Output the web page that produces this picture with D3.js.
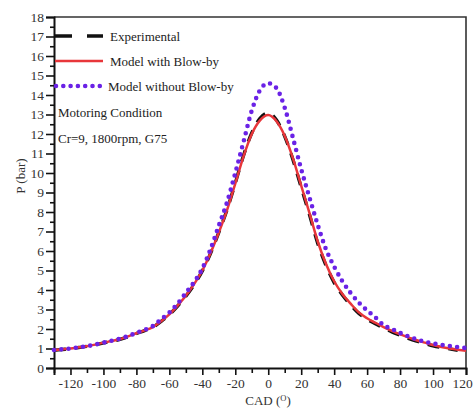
<!DOCTYPE html>
<html><head><meta charset="utf-8">
<script src="https://cdn.jsdelivr.net/npm/d3@7"></script>
<style>body{margin:0;background:#fff}svg{display:block}</style>
</head><body>
<script>
const cad = [-130,-125,-120,-115,-110,-105,-100,-95,-90,-85,-80,-75,-70,-65,-60,-55,-50,-45,-40,-35,-30,-25,-20,-15,-10,-5,0,5,10,15,20,25,30,35,40,45,50,55,60,65,70,75,80,85,90,95,100,105,110,115,120];
const withBlowby = [0.92,0.96,1.0,1.06,1.12,1.2,1.3,1.38,1.48,1.62,1.78,1.93,2.1,2.4,2.75,3.2,3.7,4.3,5.0,5.9,6.95,8.1,9.45,10.85,12.0,12.7,12.97,12.65,11.9,10.75,9.35,7.95,6.5,5.35,4.45,3.8,3.3,2.85,2.55,2.32,2.1,1.9,1.72,1.57,1.42,1.3,1.18,1.08,1.0,0.94,0.88];
const withoutBlowby = [0.92,0.96,1.0,1.06,1.12,1.2,1.3,1.4,1.5,1.64,1.8,1.96,2.15,2.5,2.85,3.3,3.85,4.4,5.1,6.1,7.3,8.5,10.0,11.6,13.2,14.25,14.6,14.35,13.35,11.8,10.2,8.75,7.35,6.1,5.2,4.45,3.85,3.35,2.95,2.6,2.2,2.0,1.8,1.62,1.47,1.35,1.26,1.19,1.13,1.07,1.02];
const expCad = [-130,-125,-120,-115,-110,-105,-100,-95,-90,-85,-80,-75,-70,-65,-60,-55,-50,-45,-40,-35,-30,-25,-20,-15,-10,-5,0,5,10,15,20,25,30,35,40,45,50,55,60,65,70,75,80,85,90,95,100,105,110,115];
const experimental = [0.91,0.95,0.99,1.05,1.11,1.19,1.29,1.37,1.47,1.61,1.77,1.92,2.09,2.39,2.74,3.18,3.68,4.27,4.98,5.88,6.95,8.12,9.48,10.9,12.05,12.8,13.08,12.72,11.88,10.68,9.27,7.87,6.4,5.27,4.38,3.74,3.24,2.8,2.5,2.27,2.05,1.85,1.68,1.52,1.38,1.26,1.14,1.05,0.98,0.91];
const xTicks = [-120,-100,-80,-60,-40,-20,0,20,40,60,80,100,120];
const yTicks = [0,1,2,3,4,5,6,7,8,9,10,11,12,13,14,15,16,17,18];
const legendLabels = ["Experimental","Model with Blow-by","Model without Blow-by"];
const notes = ["Motoring Condition","Cr=9, 1800rpm, G75"];

const W=473,H=410, L=54, R=466, T=17, B=368;
const svg=d3.select("body").append("svg").attr("width",W).attr("height",H);
const x=d3.scaleLinear().domain([-130,120]).range([L,R]);
const y=d3.scaleLinear().domain([0,18]).range([B,T]);
const font="'Liberation Serif','Times New Roman',serif";

// frame top/right
svg.append("path").attr("d",`M${L},${T}H${R}V${B}`).attr("fill","none").attr("stroke","#333").attr("stroke-width",1.6);

// minor ticks
const yMinor=d3.range(0.5,18,1);
const xMinor=d3.range(-130,121,10).filter(v=>v%20!==0);
const gyMin=svg.append("g").attr("transform",`translate(${L},0)`).call(d3.axisLeft(y).tickValues(yMinor).tickSize(4).tickFormat(""));
const gxMin=svg.append("g").attr("transform",`translate(0,${B})`).call(d3.axisBottom(x).tickValues(xMinor).tickSize(5).tickFormat(""));
[gyMin,gxMin].forEach(g=>{g.select(".domain").remove();g.selectAll("line").attr("stroke","#111").attr("stroke-width",1.6);});

const gy=svg.append("g").attr("transform",`translate(${L},0)`).call(d3.axisLeft(y).tickValues(yTicks).tickSize(8).tickPadding(2).tickFormat(d=>String(d)));
const gx=svg.append("g").attr("transform",`translate(0,${B})`).call(d3.axisBottom(x).tickValues(xTicks).tickSize(7).tickPadding(3).tickFormat(d=>String(d)));
[gy,gx].forEach(g=>{
  g.select(".domain").attr("stroke","#111").attr("stroke-width",2);
  g.selectAll("line").attr("stroke","#111").attr("stroke-width",1.6);
  g.selectAll("text").attr("font-family",font).attr("font-size",13.5).attr("fill","#333");
});
gx.selectAll("text").filter(d=>d===120).attr("dx",-4);

const line=d3.line().x(d=>x(d[0])).y(d=>y(d[1])).curve(d3.curveMonotoneX);
const plot=svg.append("g");
plot.append("path").datum(expCad.map((c,i)=>[c,experimental[i]])).attr("d",line)
  .attr("fill","none").attr("stroke","#111").attr("stroke-width",3.4).attr("stroke-dasharray","12,9");
plot.append("path").datum(cad.map((c,i)=>[c,withBlowby[i]])).attr("d",line)
  .attr("fill","none").attr("stroke","#e8363a").attr("stroke-width",2.5);
plot.append("path").datum(cad.map((c,i)=>[c,withoutBlowby[i]])).attr("d",line)
  .attr("fill","none").attr("stroke","#6a22e6").attr("stroke-width",4.6).attr("stroke-linecap","round").attr("stroke-dasharray","0,7.3");

// legend
const lg=svg.append("g");
const ly=[36,61,86];
lg.append("line").attr("x1",55).attr("x2",103).attr("y1",ly[0]).attr("y2",ly[0]).attr("stroke","#111").attr("stroke-width",3.5).attr("stroke-dasharray","17,15");
lg.append("line").attr("x1",55).attr("x2",103).attr("y1",ly[1]).attr("y2",ly[1]).attr("stroke","#e8363a").attr("stroke-width",2.5);
lg.append("line").attr("x1",56).attr("x2",103).attr("y1",ly[2]).attr("y2",ly[2]).attr("stroke","#6a22e6").attr("stroke-width",4.6).attr("stroke-linecap","round").attr("stroke-dasharray","0,7.3");
const lx=[110,110,108];
legendLabels.forEach((t,i)=>lg.append("text").attr("x",lx[i]).attr("y",ly[i]).attr("dy","0.35em").attr("font-family",font).attr("font-size",13).attr("fill","#222").text(t));
const ny=[112,138];
notes.forEach((t,i)=>lg.append("text").attr("x",58).attr("y",ny[i]).attr("dy","0.35em").attr("font-family",font).attr("font-size",13).attr("fill","#222").text(t));

// axis titles
svg.append("text").attr("transform","translate(20,176) rotate(-90)").attr("text-anchor","middle").attr("dy","0.35em")
  .attr("font-family",font).attr("font-size",13).attr("fill","#333").text("P (bar)");
const xt=svg.append("text").attr("x",268).attr("y",405).attr("text-anchor","middle").attr("font-family",font).attr("font-size",13).attr("fill","#333");
xt.append("tspan").text("CAD (");
xt.append("tspan").attr("dy",-4).attr("font-size",8.5).text("O");
xt.append("tspan").attr("dy",4).text(")");
</script>
</body></html>
